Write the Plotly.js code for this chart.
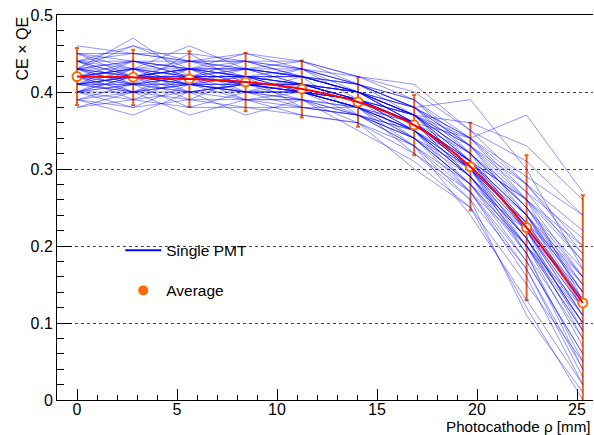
<!DOCTYPE html>
<html><head><meta charset="utf-8">
<script src="https://cdn.plot.ly/plotly-3.0.1.min.js"></script>
<style>html,body{margin:0;padding:0;background:#fff}#chart{width:594px;height:435px}</style>
</head><body><div id="chart"></div>
<script>
// Radial positions (mm)
const rho = [0, 2.81, 5.62, 8.43, 11.24, 14.05, 16.86, 19.67, 22.48, 25.29];
// Average CE x QE and its spread
const average = [0.420, 0.419, 0.417, 0.413, 0.404, 0.387, 0.357, 0.303, 0.224, 0.126];
const averageErr = [0.037, 0.036, 0.036, 0.038, 0.037, 0.032, 0.039, 0.057, 0.094, 0.140];
// Individual PMT curves (estimated)
const singlePMT = [
[0.43,0.44,0.43,0.43,0.42,0.40,0.37,0.31,0.23,0.13],
[0.41,0.40,0.41,0.40,0.40,0.38,0.35,0.29,0.21,0.10],
[0.45,0.45,0.44,0.44,0.43,0.41,0.39,0.34,0.27,0.18],
[0.39,0.40,0.39,0.39,0.38,0.37,0.33,0.27,0.18,0.06],
[0.42,0.43,0.42,0.41,0.41,0.39,0.36,0.30,0.22,0.12],
[0.44,0.42,0.43,0.42,0.41,0.40,0.38,0.33,0.26,0.16],
[0.40,0.41,0.40,0.41,0.40,0.39,0.36,0.31,0.24,0.15],
[0.42,0.41,0.42,0.42,0.40,0.38,0.34,0.28,0.19,0.08],
[0.43,0.42,0.41,0.42,0.41,0.40,0.37,0.32,0.25,0.14],
[0.41,0.42,0.43,0.41,0.40,0.39,0.35,0.30,0.22,0.11],
[0.46,0.45,0.45,0.44,0.44,0.42,0.40,0.35,0.28,0.20],
[0.38,0.39,0.38,0.38,0.37,0.36,0.32,0.26,0.17,0.04],
[0.42,0.44,0.43,0.43,0.42,0.40,0.37,0.32,0.26,0.19],
[0.40,0.39,0.40,0.39,0.39,0.37,0.34,0.28,0.20,0.09],
[0.43,0.43,0.44,0.42,0.42,0.41,0.38,0.31,0.22,0.12],
[0.41,0.41,0.40,0.40,0.39,0.38,0.36,0.32,0.25,0.17],
[0.44,0.44,0.43,0.43,0.43,0.41,0.37,0.30,0.20,0.07],
[0.42,0.42,0.41,0.41,0.41,0.39,0.36,0.31,0.23,0.13],
[0.39,0.41,0.41,0.40,0.40,0.39,0.36,0.30,0.21,0.10],
[0.43,0.41,0.42,0.43,0.42,0.40,0.36,0.29,0.19,0.05],
[0.42,0.43,0.42,0.42,0.41,0.39,0.37,0.33,0.28,0.22],
[0.40,0.40,0.41,0.40,0.40,0.38,0.35,0.29,0.20,0.10],
[0.44,0.45,0.44,0.44,0.42,0.40,0.36,0.29,0.21,0.11],
[0.41,0.42,0.41,0.41,0.40,0.38,0.34,0.27,0.16,0.02],
[0.42,0.40,0.41,0.41,0.40,0.39,0.37,0.33,0.27,0.21],
[0.43,0.44,0.42,0.42,0.42,0.40,0.37,0.31,0.24,0.14],
[0.41,0.41,0.42,0.41,0.41,0.40,0.37,0.32,0.25,0.16],
[0.40,0.42,0.41,0.40,0.39,0.37,0.34,0.29,0.22,0.13],
[0.45,0.44,0.44,0.43,0.42,0.41,0.38,0.32,0.24,0.13],
[0.42,0.42,0.43,0.42,0.41,0.39,0.35,0.29,0.20,0.09],
[0.39,0.38,0.39,0.38,0.38,0.37,0.34,0.30,0.23,0.15],
[0.43,0.42,0.42,0.42,0.42,0.40,0.37,0.31,0.22,0.11],
[0.42,0.43,0.42,0.41,0.41,0.39,0.35,0.27,0.17,0.03],
[0.41,0.40,0.40,0.41,0.40,0.39,0.36,0.31,0.24,0.14],
[0.44,0.43,0.43,0.44,0.43,0.41,0.38,0.33,0.25,0.15],
[0.42,0.41,0.41,0.40,0.40,0.38,0.35,0.30,0.23,0.12],
[0.40,0.43,0.41,0.42,0.41,0.39,0.36,0.30,0.21,0.08],
[0.43,0.42,0.43,0.41,0.41,0.40,0.38,0.34,0.29,0.24],
[0.41,0.42,0.42,0.42,0.40,0.38,0.35,0.30,0.24,0.16],
[0.42,0.42,0.42,0.41,0.40,0.38,0.35,0.29,0.21,0.10],
[0.43,0.47,0.42,0.43,0.41,0.40,0.38,0.39,0.30,0.17],
[0.39,0.37,0.40,0.37,0.39,0.35,0.31,0.25,0.12,0.00],
[0.41,0.42,0.39,0.42,0.38,0.38,0.36,0.34,0.37,0.27],
[0.42,0.40,0.43,0.40,0.42,0.37,0.33,0.24,0.13,0.02],
[0.44,0.41,0.45,0.41,0.43,0.39,0.37,0.36,0.33,0.26],
[0.40,0.38,0.41,0.39,0.39,0.36,0.30,0.25,0.15,0.05],
[0.43,0.46,0.43,0.45,0.43,0.42,0.41,0.35,0.31,0.24],
[0.42,0.43,0.40,0.41,0.40,0.38,0.33,0.26,0.11,0.01],
[0.45,0.43,0.46,0.43,0.44,0.41,0.39,0.33,0.24,0.12],
[0.38,0.40,0.37,0.39,0.37,0.36,0.33,0.28,0.22,0.14],
[0.44,0.46,0.44,0.45,0.44,0.42,0.39,0.32,0.22,0.09],
[0.40,0.41,0.38,0.40,0.38,0.37,0.35,0.31,0.26,0.20],
[0.43,0.40,0.42,0.40,0.41,0.39,0.34,0.28,0.18,0.06],
[0.41,0.44,0.42,0.44,0.42,0.41,0.38,0.34,0.28,0.19],
[0.42,0.39,0.42,0.39,0.40,0.37,0.35,0.28,0.20,0.11],
[0.44,0.42,0.44,0.43,0.42,0.40,0.36,0.31,0.26,0.18],
[0.41,0.43,0.41,0.43,0.41,0.40,0.37,0.30,0.19,0.04],
[0.43,0.41,0.43,0.42,0.40,0.39,0.37,0.34,0.26,0.13],
[0.40,0.42,0.40,0.41,0.39,0.38,0.32,0.27,0.20,0.12],
[0.45,0.42,0.43,0.42,0.43,0.40,0.36,0.30,0.23,0.16]
];
const legendNames = ['Single PMT', 'Average'];
const xTitle = 'Photocathode \u03c1 [mm]';
const yTitle = 'CE \u00d7 QE';

const FONT = 'Liberation Sans, Arial, Helvetica, sans-serif';
const ORANGE = '#ff6a00';
const ERRCOL = '#ec5f1c';

const traces = [];
// error bars first (lines drawn over them)
traces.push({x: rho, y: average, mode: 'markers', showlegend: false, hoverinfo: 'skip',
  marker: {size: 1, color: 'rgba(0,0,0,0)'},
  error_y: {type: 'data', array: averageErr, visible: true, color: ERRCOL, thickness: 2, width: 2}});
singlePMT.forEach(v => traces.push({x: rho, y: v, mode: 'lines', showlegend: false, hoverinfo: 'skip',
  line: {color: 'rgba(0,0,255,0.42)', width: 1}}));
// markers
traces.push({x: rho, y: average, mode: 'markers', showlegend: false,
  marker: {symbol: 'circle', size: 9, color: '#ffffff', line: {color: ORANGE, width: 2}}});
// smooth red curve on top
traces.push({x: rho, y: average, mode: 'lines', showlegend: false, line: {color: '#ff0000', width: 2, shape: 'spline', smoothing: 1}});
// legend entries
traces.push({x: [null], y: [null], mode: 'lines', name: legendNames[0], legendgroup: 'a', line: {color: '#0000ff', width: 2}});
traces.push({x: [null], y: [null], mode: 'markers', name: legendNames[1], legendgroup: 'b', marker: {color: ORANGE, size: 10, symbol: 'circle'}});

const layout = {
  width: 594, height: 435,
  margin: {l: 57, r: 1, t: 15, b: 35},
  paper_bgcolor: '#fff', plot_bgcolor: '#fff',
  font: {family: FONT, size: 15, color: '#000'},
  showlegend: true,
  legend: {x: 0.118, y: 0.432, xanchor: 'left', yanchor: 'top', bgcolor: 'rgba(0,0,0,0)',
    font: {family: FONT, size: 15.5}, tracegroupgap: 17, itemwidth: 36},
  xaxis: {range: [-1, 25.8], showgrid: false, zeroline: false, showline: true, mirror: true,
    linecolor: '#000', linewidth: 1, ticks: 'inside', ticklen: 11, tickcolor: '#000', tickwidth: 1,
    dtick: 5, tick0: 0, tickfont: {family: FONT, size: 16}, ticklabelstandoff: -5,
    minor: {dtick: 1, ticks: 'inside', ticklen: 5, tickcolor: '#000'}},
  yaxis: {range: [0, 0.5], showgrid: true, gridcolor: '#444', griddash: 'dot', gridwidth: 1,
    zeroline: false, showline: true, linecolor: '#000', linewidth: 1,
    ticks: 'inside', ticklen: 15, tickcolor: '#000', dtick: 0.1, tick0: 0,
    tickfont: {family: FONT, size: 16},
    minor: {dtick: 0.02, ticks: 'inside', ticklen: 7, tickcolor: '#000'}},
  annotations: [
    {text: xTitle, xref: 'paper', yref: 'paper', x: 1, y: 0, xanchor: 'right', yanchor: 'bottom', yshift: -37,
      showarrow: false, font: {family: FONT, size: 15.2}},
    {text: yTitle, xref: 'paper', yref: 'paper', x: 0, y: 1, xanchor: 'right', yanchor: 'top', xshift: -25,
      textangle: -90, showarrow: false, font: {family: FONT, size: 16}}
  ]
};
Plotly.newPlot('chart', traces, layout, {staticPlot: true, displayModeBar: false});
</script></body></html>
